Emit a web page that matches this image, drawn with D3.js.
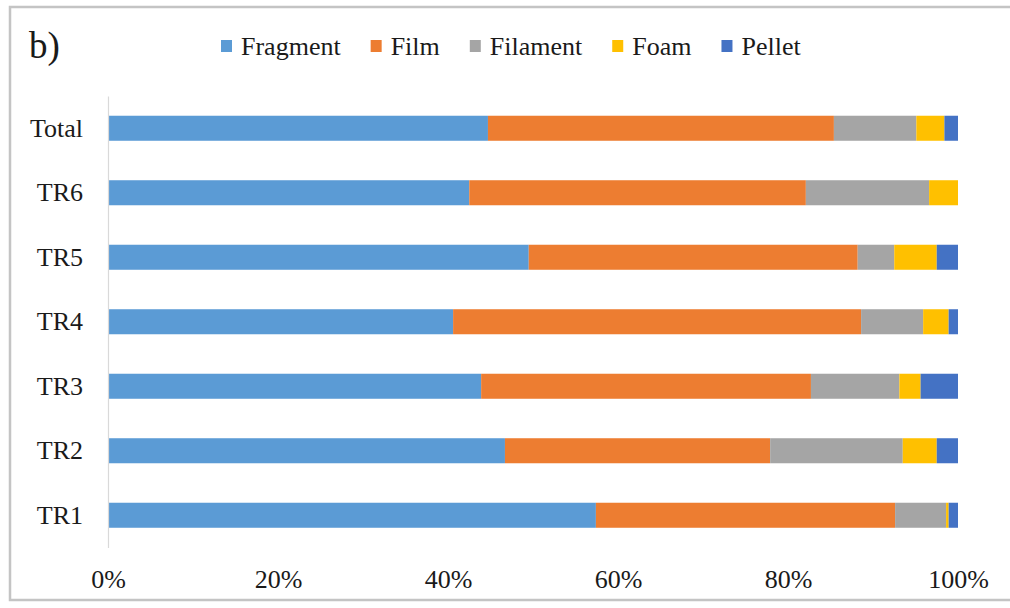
<!DOCTYPE html>
<html>
<head>
<meta charset="utf-8">
<script src="https://cdn.jsdelivr.net/npm/d3@7"></script>
<style>
  body { margin: 0; background: #fff; overflow: hidden; }
</style>
</head>
<body>
<svg id="chart" width="1010" height="608" style="font-family: 'Liberation Serif', 'Times New Roman', serif; display: block;"></svg>
<script>

// categories, top to bottom
var sites = ["Total", "TR6", "TR5", "TR4", "TR3", "TR2", "TR1"]
var types = ["Fragment", "Film", "Filament", "Foam", "Pellet"]

// share of each type per site (%)
var fragment = [44.7, 42.5, 49.5, 40.6, 43.9, 46.7, 57.4]
var film     = [40.7, 39.6, 38.7, 48.0, 38.8, 31.2, 35.2]
var filament = [ 9.7, 14.5,  4.3,  7.3, 10.4, 15.6,  6.0]
var foam     = [ 3.3,  3.4,  5.0,  3.0,  2.5,  4.0,  0.3]
var pellet   = [ 1.6,  0.0,  2.5,  1.1,  4.4,  2.5,  1.1]

var xTicks = [0, 0.2, 0.4, 0.6, 0.8, 1]
var colors = ["#5b9bd5", "#ed7d31", "#a5a5a5", "#ffc000", "#4472c4"]

var rows = sites.map(function(s, i){
  return {site: s, Fragment: fragment[i], Film: film[i], Filament: filament[i], Foam: foam[i], Pellet: pellet[i]}
})

var svg = d3.select("#chart")
var serif = "'Liberation Serif', 'Times New Roman', serif"

// outer frame: top, left and bottom edges only
svg.append("path")
    .attr("d", "M1010,7H10V600H1010")
    .attr("fill", "none")
    .attr("stroke", "#c4c4c4")
    .attr("stroke-width", 2.5)

var x = d3.scaleLinear().domain([0, 1]).range([108, 958])
var y = d3.scaleBand().domain(sites).range([96, 547.5])
    .paddingInner(0.612).paddingOuter(0.306)
var color = d3.scaleOrdinal().domain(types).range(colors)

var stacked = d3.stack().keys(types).offset(d3.stackOffsetExpand)(rows)

svg.append("g").selectAll("g")
    .data(stacked)
  .enter().append("g")
    .attr("fill", function(d){ return color(d.key) })
  .selectAll("rect")
    .data(function(d){ return d })
  .enter().append("rect")
    .attr("x", function(d){ return x(d[0]) })
    .attr("y", function(d){ return y(d.data.site) })
    .attr("width", function(d){ return x(d[1]) - x(d[0]) })
    .attr("height", y.bandwidth())

// y axis
var yAxis = svg.append("g")
    .attr("transform", "translate(108,0)")
    .call(d3.axisLeft(y).tickSize(0).tickSizeOuter(0).tickPadding(25))
yAxis.select(".domain").attr("stroke", "#d9d9d9").attr("stroke-width", 1.2)
yAxis.selectAll("text")
    .style("font-size", "26px")
    .style("font-family", serif)
    .attr("fill", "#1a1a1a")

// x axis labels
var xAxis = svg.append("g")
    .attr("transform", "translate(0,547.5)")
    .call(d3.axisBottom(x).tickValues(xTicks).tickSize(0).tickFormat(d3.format(".0%")))
xAxis.select(".domain").remove()
xAxis.selectAll("text")
    .attr("y", 40).attr("dy", 0)
    .style("font-size", "26px")
    .style("font-family", serif)
    .attr("fill", "#1a1a1a")

// panel letter
svg.append("text")
    .attr("x", 29).attr("y", 58)
    .style("font-size", "37px")
    .style("font-family", serif)
    .attr("fill", "#1a1a1a")
    .text("b)")

// legend
var lx = 221
types.forEach(function(t){
  svg.append("rect")
      .attr("x", lx).attr("y", 40)
      .attr("width", 11).attr("height", 12)
      .attr("fill", color(t))
  var tx = svg.append("text")
      .attr("x", lx + 20).attr("y", 55)
      .style("font-size", "26px")
      .style("font-family", serif)
      .attr("fill", "#1a1a1a")
      .text(t)
  lx = lx + 20 + tx.node().getComputedTextLength() + 30
})

</script>
</body>
</html>
